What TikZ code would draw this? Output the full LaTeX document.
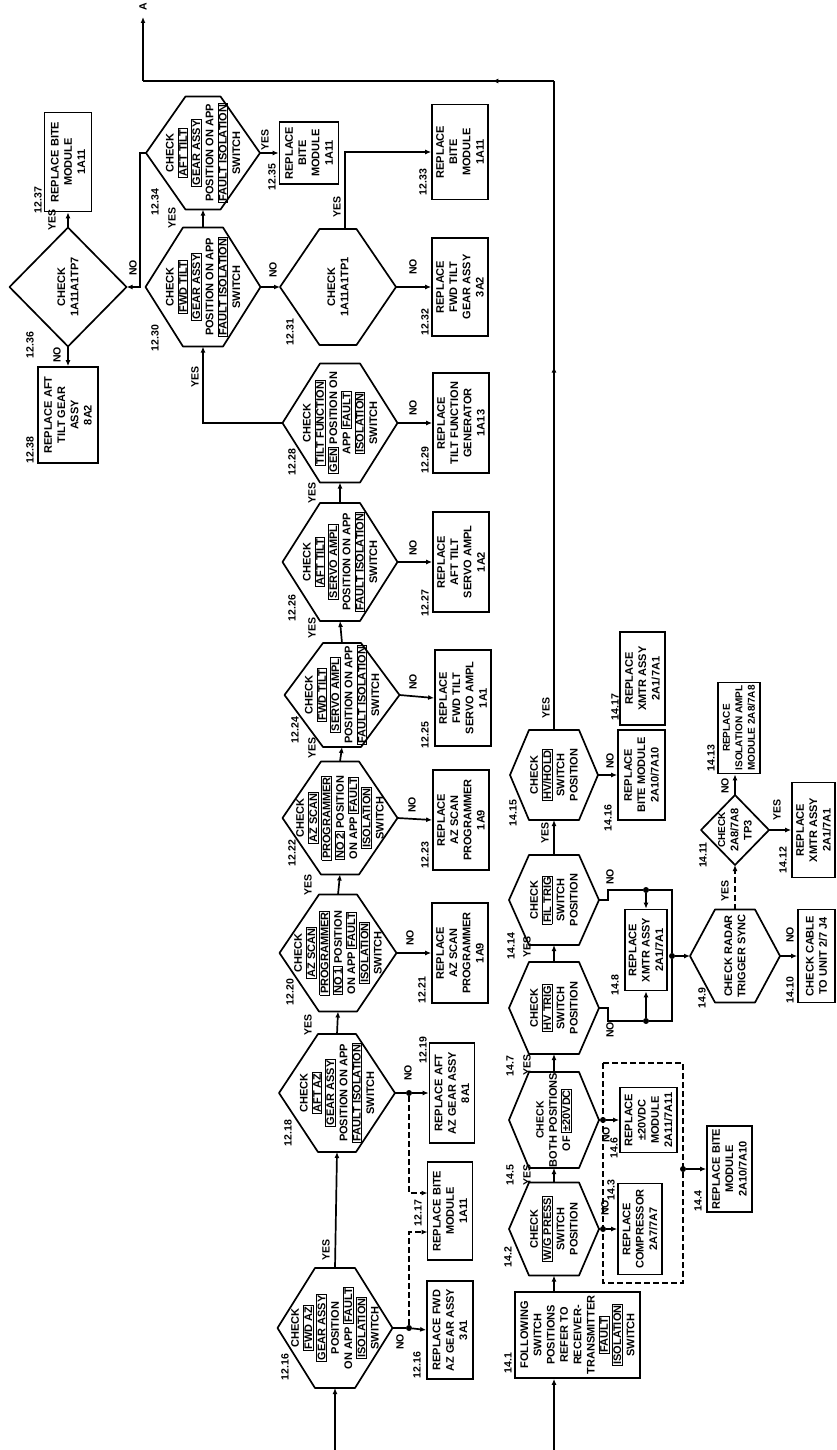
\documentclass[tikz,border=0pt]{standalone}
\usepackage{fontspec}
\setmainfont{Liberation Sans}
\usetikzlibrary{positioning,arrows.meta,decorations.markings}

% switch names printed in a frame
\newcommand{\sw}[1]{{\setlength{\fboxsep}{0.6pt}\setlength{\fboxrule}{0.9pt}\fbox{#1}}}
% hexagon: name, x, y, half width, half height, half flat edge, text
\newcommand{\hexnode}[7]{%
  \draw[hexline] (#2-#4,#3) coordinate (#1-l) -- (#2-#6,#3-#5) -- (#2+#6,#3-#5)
    -- (#2+#4,#3) coordinate (#1-r) -- (#2+#6,#3+#5) -- (#2-#6,#3+#5) -- cycle;
  \coordinate (#1-t) at (#2,#3-#5);
  \coordinate (#1-b) at (#2,#3+#5);
  \node[hextext] (#1) at (#2,#3) {#7};
}

\begin{document}
\begin{tikzpicture}[
  x=1pt, y=-1pt,
  every node/.style={font=\bfseries\fontsize{11}{13.3}\selectfont},
  box/.style={draw, line width=1.7pt, rotate=90, align=center, inner sep=2pt},
  hexline/.style={line width=1.7pt, line join=round},
  hextext/.style={rotate=90, align=center, inner sep=0pt},
  lbl/.style={rotate=90, inner sep=0pt, font=\bfseries\fontsize{10.5}{12}\selectfont},
  jdot/.style={circle, fill, inner sep=0pt, minimum size=6pt},
  line/.style={line width=1.7pt},
  arrow/.style={line width=1.7pt, -{Latex[length=6pt,width=5pt]}},
  dasharrow/.style={arrow, dash pattern=on 6pt off 3pt},
  dashline/.style={line width=1.7pt, dash pattern=on 6pt off 3pt},
  midarr/.style={postaction={decorate}, decoration={markings,
      mark=at position #1 with {\arrow{Latex[length=6pt,width=5pt]}}}},
]
  \useasboundingbox (0,0) rectangle (836,1450);

  % azimuth and tilt checks
  \hexnode{h1216}{335}{1328}{57.5}{60}{20}{CHECK\\\sw{FWD AZ}\\\sw{GEAR ASSY}\\POSITION\\ON APP \sw{FAULT}\\\sw{ISOLATION}\\SWITCH}
  \hexnode{h1218}{337}{1093}{58}{59}{19}{CHECK\\\sw{AFT AZ}\\\sw{GEAR ASSY}\\POSITION ON APP\\\sw{FAULT ISOLATION}\\SWITCH}
  \hexnode{h1220}{338}{953}{58.5}{58.5}{19}{CHECK\\\sw{AZ SCAN}\\\sw{PROGRAMMER}\\\sw{NO 1} POSITION\\ON APP \sw{FAULT}\\\sw{ISOLATION}\\SWITCH}
  \hexnode{h1222}{340}{818}{57.5}{56.5}{19}{CHECK\\\sw{AZ SCAN}\\\sw{PROGRAMMER}\\\sw{NO 2} POSITION\\ON APP \sw{FAULT}\\\sw{ISOLATION}\\SWITCH}
  \hexnode{h1224}{342}{695}{57.5}{52}{19}{CHECK\\\sw{FWD TILT}\\\sw{SERVO AMPL}\\POSITION ON APP\\\sw{FAULT ISOLATION}\\SWITCH}
  \hexnode{h1226}{340}{562}{57.5}{59}{20}{CHECK\\\sw{AFT TILT}\\\sw{SERVO AMPL}\\POSITION ON APP\\\sw{FAULT ISOLATION}\\SWITCH}
  \hexnode{h1228}{340}{423}{57.5}{59.5}{20}{CHECK\\\sw{TILT FUNCTION}\\\sw{GEN} POSITION ON\\APP \sw{FAULT}\\\sw{ISOLATION}\\SWITCH}
  \hexnode{h1230}{203}{287}{57.5}{59.5}{20}{CHECK\\\sw{FWD TILT}\\\sw{GEAR ASSY}\\POSITION ON APP\\\sw{FAULT ISOLATION}\\SWITCH}
  \hexnode{h1231}{338}{287}{58}{58}{18.5}{CHECK\\1A11A1TP1}
  \hexnode{h1234}{203}{153}{57}{56.5}{17.5}{CHECK\\\sw{AFT TILT}\\\sw{GEAR ASSY}\\POSITION ON APP\\\sw{FAULT ISOLATION}\\SWITCH}
  \hexnode{h1236}{68}{287}{58.5}{59.5}{0}{CHECK\\1A11A1TP7}

  \node[box, minimum width=98pt, minimum height=46pt] (b1216) at (450,1330) {REPLACE FWD\\AZ GEAR ASSY\\3A1};
  \node[box, minimum width=98pt, minimum height=45pt] (b1217) at (450,1211) {REPLACE BITE\\MODULE\\1A11};
  \node[box, minimum width=100pt, minimum height=45pt] (b1219) at (452,1093) {REPLACE AFT\\AZ GEAR ASSY\\8A1};
  \node[box, minimum width=100pt, minimum height=56pt] (b1221) at (460,953) {REPLACE\\AZ SCAN\\PROGRAMMER\\1A9};
  \node[box, minimum width=100pt, minimum height=56pt] (b1223) at (461,820) {REPLACE\\AZ SCAN\\PROGRAMMER\\1A9};
  \node[box, minimum width=96pt, minimum height=56pt] (b1225) at (463,698) {REPLACE\\FWD TILT\\SERVO AMPL\\1A1};
  \node[box, minimum width=100pt, minimum height=56pt] (b1227) at (461,562) {REPLACE\\AFT TILT\\SERVO AMPL\\1A2};
  \node[box, minimum width=100pt, minimum height=56pt] (b1229) at (461,423) {REPLACE\\TILT FUNCTION\\GENERATOR\\1A13};
  \node[box, minimum width=98pt, minimum height=56pt] (b1232) at (460,287) {REPLACE\\FWD TILT\\GEAR ASSY\\3A2};
  \node[box, minimum width=95pt, minimum height=56pt] (b1233) at (460,152) {REPLACE\\BITE\\MODULE\\1A11};
  \node[box, minimum width=62pt, minimum height=59pt] (b1235) at (309,153) {REPLACE\\BITE\\MODULE\\1A11};
  \node[box, minimum width=99pt, minimum height=47pt] (b1237) at (68,162) {REPLACE BITE\\MODULE\\1A11};
  \node[box, minimum width=96pt, minimum height=60pt] (b1238) at (68,415) {REPLACE AFT\\TILT GEAR\\ASSY\\8A2};

  % transmitter checks
  \node[box, minimum width=86pt, minimum height=125pt] (b141) at (577.5,1335) {FOLLOWING\\SWITCH\\POSITIONS\\REFER TO\\RECEIVER-\\TRANSMITTER\\\sw{FAULT}\\\sw{ISOLATION}\\SWITCH};
  \hexnode{h142}{554}{1229}{45}{46.5}{25}{CHECK\\\sw{W/G PRESS}\\SWITCH\\POSITION}
  \hexnode{h145}{554}{1120}{45}{48}{25}{\fontsize{10.5}{12.5}\selectfont CHECK\\BOTH POSITIONS\\OF \sw{±20VDC}}
  \hexnode{h147}{554}{1008}{45}{46}{25}{CHECK\\\sw{HV TRIG}\\SWITCH\\POSITION}
  \hexnode{h1414}{554}{900}{45}{45}{25}{CHECK\\\sw{FIL TRIG}\\SWITCH\\POSITION}
  \hexnode{h1415}{554}{775}{44}{45}{25}{CHECK\\\sw{HV/HOLD}\\SWITCH\\POSITION}
  \hexnode{h149}{735}{956}{45}{46.5}{20}{CHECK RADAR\\TRIGGER SYNC}
  \hexnode{h1411}{735}{830}{34}{35}{0}{\fontsize{10}{12}\selectfont CHECK\\2A8/7A8\\TP3}

  \node[box, minimum width=91pt, minimum height=44pt] (b143) at (640,1229) {REPLACE\\COMPRESSOR\\2A7/7A7};
  \node[box, minimum width=86pt, minimum height=45pt] (b144) at (729.5,1169) {REPLACE BITE\\MODULE\\2A10/7A10};
  \node[box, minimum width=65pt, minimum height=57pt] (b146) at (648.5,1120) {REPLACE\\±20VDC\\MODULE\\2A11/7A11};
  \node[box, minimum width=81pt, minimum height=42pt] (b148) at (646,950) {REPLACE\\XMTR ASSY\\2A1/7A1};
  \node[box, minimum width=93pt, minimum height=37pt] (b1410) at (816.5,956) {CHECK CABLE\\TO UNIT 2/7 J4};
  \node[box, minimum width=95pt, minimum height=43pt] (b1412) at (813.5,830) {REPLACE\\XMTR ASSY\\2A1/7A1};
  \node[box, minimum width=91pt, minimum height=42pt, font=\bfseries\fontsize{10}{12.5}\selectfont] (b1413) at (739,728) {REPLACE\\ISOLATION AMPL\\MODULE 2A8/7A8};
  \node[box, minimum width=90pt, minimum height=47pt] (b1416) at (641.5,775) {REPLACE\\BITE MODULE\\2A10/7A10};
  \node[box, minimum width=93pt, minimum height=45pt] (b1417) at (642.5,678.5) {REPLACE\\XMTR ASSY\\2A1/7A1};

  % junctions and corners
  \node[jdot] (j1216) at (409,1328) {};
  \node[jdot] (j1218) at (409,1093) {};
  \node[jdot] (j142) at (603,1229) {};
  \node[jdot] (j145) at (603,1120) {};
  \node[jdot] (j144) at (683,1169) {};
  \node[jdot] (j148t) at (646,890) {};
  \node[jdot] (j148b) at (646,1021) {};
  \node[jdot] (j149) at (672,956) {};
  \coordinate (in12) at (335,1450);
  \coordinate (in14) at (554,1450);
  \coordinate (e1217a) at (427.5,1232);
  \coordinate (e1217b) at (427.5,1193);
  \coordinate (h1231-y) at (345,229);
  \coordinate (c147) at (672,1021);
  \coordinate (c1414) at (672,890);
  \coordinate (c1) at (554,81);
  \coordinate (c2) at (143,81);
  \coordinate (outA) at (143,17);

  % connectors, upper chain
  \draw[arrow] (in12) -- (h1216-b);
  \draw[arrow] (h1216-t) -- (h1218-b);
  \draw[line] (h1216-r) -- (j1216);
  \draw[arrow] (j1216) -- (b1216.north);
  \draw[dasharrow] (j1216) |- (e1217a);
  \draw[line] (h1218-r) -- (j1218);
  \draw[arrow] (j1218) -- (b1219.north);
  \draw[dasharrow] (j1218) |- (e1217b);
  \draw[arrow] (h1218-t) -- (h1220-b);
  \draw[arrow] (h1220-r) -- (b1221.north);
  \draw[arrow] (h1220-t) -- (h1222-b);
  \draw[arrow] (h1222-r) -- (b1223.north);
  \draw[arrow] (h1222-t) -- (h1224-b);
  \draw[arrow] (h1224-r) -- (b1225.north);
  \draw[arrow] (h1224-t) -- (h1226-b);
  \draw[arrow] (h1226-r) -- (b1227.north);
  \draw[arrow] (h1226-t) -- (h1228-b);
  \draw[arrow] (h1228-r) -- (b1229.north);
  \draw[arrow] (h1228-l) -| (h1230-b);
  \draw[arrow] (h1230-t) -- (h1234-b);
  \draw[arrow] (h1230-r) -- (h1231-l);
  \draw[arrow] (h1231-r) -- (b1232.north);
  \draw[arrow] (h1231-y) |- (b1233.north);
  \draw[arrow] (h1234-r) -- (b1235.north);
  \draw[arrow] (h1234-l) -- ++(-6,0) |- (h1236-r);
  \draw[arrow] (h1236-t) -- (b1237.west);
  \draw[arrow] (h1236-b) -- (b1238.east);

  % connectors, lower chain
  \draw[arrow] (in14) -- (in14 |- b141.west);
  \draw[arrow] (h142-b |- b141.east) -- (h142-b);
  \draw[arrow] (h142-t) -- (h145-b);
  \draw[line] (h142-r) -- (j142);
  \draw[arrow] (j142) -- (b143.north);
  \draw[arrow] (h145-t) -- (h147-b);
  \draw[line] (h145-r) -- (j145);
  \draw[arrow] (j145) -- (b146.north);
  \draw[dashline] (603,1063) rectangle (683,1283);
  \draw[arrow] (j144) -- (b144.north);
  \draw[arrow] (h147-t) -- (h1414-b);
  \draw[line] (h147-r) -- ++(9,0) |- (j148b) -- (c147) -- (j149);
  \draw[arrow] (j148b) -- (b148.west);
  \draw[line] (h1414-r) -- ++(9,0) |- (j148t) -- (c1414) -- (j149);
  \draw[arrow] (j148t) -- (b148.east);
  \draw[arrow] (j149) -- (h149-l);
  \draw[arrow] (h149-r) -- (b1410.north);
  \draw[dasharrow] (h149-t) -- (h1411-b);
  \draw[arrow] (h1411-t) -- (h1411-t |- b1413.west);
  \draw[arrow] (h1411-r) -- (b1412.north);
  \draw[arrow] (h1414-t) -- (h1415-b);
  \draw[arrow] (h1415-r) -- (b1416.north);
  \draw[line, midarr=0.56] (h1415-t) -- (c1);
  \draw[line, midarr=0.15] (c1) -- (c2);
  \draw[arrow] (c2) -- (outA);
  \node[lbl] (lA) at (143,7) {A};

  % step numbers
  \node[lbl] (l1216) at (285,1367) {12.16};
  \node[lbl] (l1216b) at (417,1365) {12.16};
  \node[lbl] (l1217) at (418,1213) {12.17};
  \node[lbl] (l1218) at (288,1133) {12.18};
  \node[lbl] (l1219) at (423,1050) {12.19};
  \node[lbl] (l1220) at (290,992) {12.20};
  \node[lbl] (l1221) at (422,990) {12.21};
  \node[lbl] (l1222) at (292,853) {12.22};
  \node[lbl] (l1223) at (425,855) {12.23};
  \node[lbl] (l1224) at (295,730) {12.24};
  \node[lbl] (l1225) at (425,735) {12.25};
  \node[lbl] (l1226) at (292,608) {12.26};
  \node[lbl] (l1227) at (425,603) {12.27};
  \node[lbl] (l1228) at (292,462) {12.28};
  \node[lbl] (l1229) at (425,460) {12.29};
  \node[lbl] (l1230) at (155,338) {12.30};
  \node[lbl] (l1231) at (290,332) {12.31};
  \node[lbl] (l1232) at (425,322) {12.32};
  \node[lbl] (l1233) at (423,182) {12.33};
  \node[lbl] (l1234) at (155,202) {12.34};
  \node[lbl] (l1235) at (272,177) {12.35};
  \node[lbl] (l1236) at (30,345) {12.36};
  \node[lbl] (l1237) at (38,200) {12.37};
  \node[lbl] (l1238) at (30,450) {12.38};
  \node[lbl] (l141) at (508,1363) {14.1};
  \node[lbl] (l142) at (508,1257) {14.2};
  \node[lbl] (l143) at (611,1190) {14.3};
  \node[lbl] (l144) at (698,1201) {14.4};
  \node[lbl] (l145) at (510,1175) {14.5};
  \node[lbl] (l146) at (614,1148) {14.6};
  \node[lbl] (l147) at (510,1066) {14.7};
  \node[lbl] (l148) at (615,985) {14.8};
  \node[lbl] (l149) at (702,998) {14.9};
  \node[lbl] (l1410) at (790,990) {14.10};
  \node[lbl] (l1411) at (703,855) {14.11};
  \node[lbl] (l1412) at (783,860) {14.12};
  \node[lbl] (l1413) at (711,758) {14.13};
  \node[lbl] (l1414) at (511,946) {14.14};
  \node[lbl] (l1415) at (513,813) {14.15};
  \node[lbl] (l1416) at (608,818) {14.16};
  \node[lbl] (l1417) at (615,707) {14.17};

  % answers
  \node[lbl] (y1216) at (326,1250) {YES};
  \node[lbl] (n1216) at (400,1342) {NO};
  \node[lbl] (y1218) at (308,1025) {YES};
  \node[lbl] (n1218) at (408,1073) {NO};
  \node[lbl] (y1220) at (308,885) {YES};
  \node[lbl] (n1220) at (410,938) {NO};
  \node[lbl] (y1222) at (312,748) {YES};
  \node[lbl] (n1222) at (412,805) {NO};
  \node[lbl] (y1224) at (312,628) {YES};
  \node[lbl] (n1224) at (413,682) {NO};
  \node[lbl] (y1226) at (312,493) {YES};
  \node[lbl] (n1226) at (413,548) {NO};
  \node[lbl] (y1228) at (195,377) {YES};
  \node[lbl] (n1228) at (413,408) {NO};
  \node[lbl] (y1230) at (172,218) {YES};
  \node[lbl] (n1230) at (273,270) {NO};
  \node[lbl] (y1231) at (337,207) {YES};
  \node[lbl] (n1231) at (413,267) {NO};
  \node[lbl] (y1234) at (265,140) {YES};
  \node[lbl] (n1234) at (133,268) {NO};
  \node[lbl] (y1236) at (52,220) {YES};
  \node[lbl] (n1236) at (57,355) {NO};
  \node[lbl] (y142) at (527,1175) {YES};
  \node[lbl] (n142) at (605,1208) {NO};
  \node[lbl] (y145) at (527,1065) {YES};
  \node[lbl] (n145) at (606,1135) {NO};
  \node[lbl] (y147) at (527,947) {YES};
  \node[lbl] (n147) at (610,1030) {NO};
  \node[lbl] (y1414) at (545,833) {YES};
  \node[lbl] (n1414) at (610,877) {NO};
  \node[lbl] (y1415) at (546,708) {YES};
  \node[lbl] (n1415) at (610,761) {NO};
  \node[lbl] (y149) at (725,891) {YES};
  \node[lbl] (n149) at (790,935) {NO};
  \node[lbl] (y1411) at (777,810) {YES};
  \node[lbl] (n1411) at (725,786) {NO};
\end{tikzpicture}
\end{document}
